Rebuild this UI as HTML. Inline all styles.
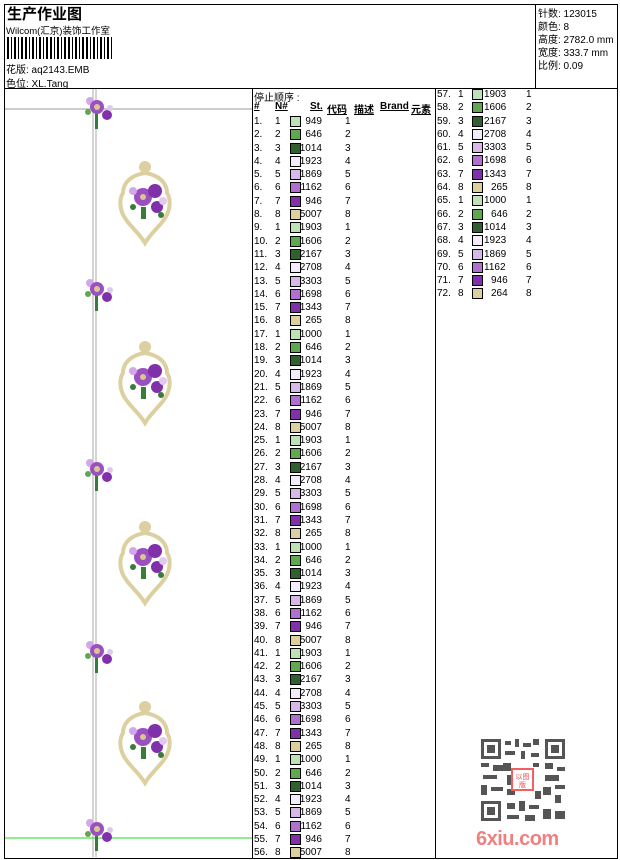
<!DOCTYPE html>
<html><head><meta charset="utf-8"><style>
body{margin:0;width:620px;height:860px;background:#fff;position:relative;overflow:hidden;font-family:"Liberation Sans","Noto Sans CJK SC",sans-serif;color:#000}
.abs{position:absolute}
.t{position:absolute;font-size:10px;white-space:nowrap}
.col{position:absolute;font-size:10px}
.col div{height:13.3px;line-height:13.3px;position:relative;white-space:nowrap}
.col span{position:absolute}
.col i{position:absolute;width:9px;height:9px;border:1px solid #000;top:1px}
.a{left:0}.b{left:21px}.s{width:32px;text-align:right}
</style></head><body>
<div class="abs" style="left:4px;top:4px;width:612px;height:853px;border:1px solid #000"></div>
<div class="abs" style="left:4px;top:88px;width:613px;border-top:1px solid #000"></div>
<div class="abs" style="left:535px;top:4px;height:84px;border-left:1px solid #000"></div>
<div class="abs" style="left:252px;top:88px;height:770px;border-left:1px solid #000"></div>
<div class="abs" style="left:435px;top:88px;height:770px;border-left:1px solid #000"></div>

<div class="t" style="left:7px;top:3px;font-size:15px;font-weight:bold">生产作业图</div>
<div class="t" style="left:6px;top:23px;font-size:9.5px">Wilcom(汇京)装饰工作室</div>
<svg class="abs" style="left:7px;top:37px" width="105" height="22">
<g fill="#000">
<rect x="0" y="0" width="2" height="22"/><rect x="4" y="0" width="1" height="22"/><rect x="7" y="0" width="2" height="22"/><rect x="11" y="0" width="1" height="22"/><rect x="14" y="0" width="2" height="22"/><rect x="18" y="0" width="2" height="22"/><rect x="22" y="0" width="1" height="22"/><rect x="25" y="0" width="2" height="22"/><rect x="29" y="0" width="1" height="22"/><rect x="32" y="0" width="2" height="22"/><rect x="36" y="0" width="1" height="22"/><rect x="39" y="0" width="2" height="22"/><rect x="43" y="0" width="2" height="22"/><rect x="47" y="0" width="1" height="22"/><rect x="50" y="0" width="2" height="22"/><rect x="54" y="0" width="1" height="22"/><rect x="57" y="0" width="2" height="22"/><rect x="61" y="0" width="2" height="22"/><rect x="65" y="0" width="1" height="22"/><rect x="68" y="0" width="2" height="22"/><rect x="72" y="0" width="1" height="22"/><rect x="75" y="0" width="2" height="22"/><rect x="79" y="0" width="2" height="22"/><rect x="83" y="0" width="1" height="22"/><rect x="86" y="0" width="2" height="22"/><rect x="90" y="0" width="1" height="22"/><rect x="93" y="0" width="2" height="22"/><rect x="97" y="0" width="1" height="22"/><rect x="100" y="0" width="2" height="22"/><rect x="104" y="0" width="1" height="22"/>
</g></svg>
<div class="t" style="left:6px;top:61px">花版: aq2143.EMB</div>
<div class="t" style="left:6px;top:75px">色位: XL.Tang</div>

<div class="t" style="left:538px;top:5px">针数: 123015</div>
<div class="t" style="left:538px;top:18px">颜色: 8</div>
<div class="t" style="left:538px;top:31px">高度: 2782.0 mm</div>
<div class="t" style="left:538px;top:44px">宽度: 333.7 mm</div>
<div class="t" style="left:538px;top:57px">比例: 0.09</div>

<svg class="abs" style="left:5px;top:89px" width="247" height="768">
<defs>
<g id="sf"><rect x="-3" y="6" width="3" height="16" fill="#3a7a3a"/><circle cx="-8" cy="-6" r="4" fill="#d4a8e8"/><circle cx="-1" cy="0" r="7" fill="#9a50c0"/><circle cx="-1" cy="0" r="3" fill="#d8c890"/><circle cx="9" cy="8" r="5" fill="#8030a8"/><circle cx="-10" cy="5" r="3" fill="#60a850"/><circle cx="12" cy="1" r="3" fill="#e0c8f0"/></g>
<g id="bf"><path d="M0,-28 C-14,-26 -22,-18 -22,-8 C-26,-2 -26,10 -18,20 C-12,28 -6,32 0,42 C6,32 12,28 18,20 C26,10 26,-2 22,-8 C22,-18 14,-26 0,-28Z" fill="none" stroke="#ddd0a0" stroke-width="4"/><circle cx="0" cy="-34" r="6" fill="#ddd0a0"/><circle cx="-2" cy="-4" r="9" fill="#9a50c0"/><circle cx="-2" cy="-4" r="3" fill="#d8c890"/><circle cx="10" cy="-10" r="7" fill="#8030a8"/><circle cx="12" cy="6" r="6" fill="#8030a8"/><circle cx="-12" cy="-10" r="4" fill="#d4a8e8"/><circle cx="18" cy="0" r="4" fill="#e0c8f0"/><rect x="-4" y="6" width="5" height="12" fill="#3a7a3a"/><circle cx="-12" cy="6" r="3" fill="#3a7a3a"/><circle cx="16" cy="14" r="3" fill="#3a7a3a"/></g>
</defs>
<line x1="88" y1="0" x2="88" y2="768" stroke="#aaa" stroke-width="1"/>
<line x1="91" y1="0" x2="91" y2="768" stroke="#aaa" stroke-width="1"/>
<line x1="0" y1="20" x2="247" y2="20" stroke="#999"/>
<line x1="0" y1="749" x2="247" y2="749" stroke="#22dd22"/>
<use href="#sf" x="93" y="18"/>
<use href="#sf" x="93" y="200"/>
<use href="#sf" x="93" y="380"/>
<use href="#sf" x="93" y="562"/>
<use href="#sf" x="93" y="740"/>
<use href="#bf" x="140" y="112"/>
<use href="#bf" x="140" y="292"/>
<use href="#bf" x="140" y="472"/>
<use href="#bf" x="140" y="652"/>
</svg>

<div class="t" style="left:254px;top:89px">停止顺序 :</div>
<div class="t" style="left:254px;top:101px;font-weight:bold;text-decoration:underline">#</div>
<div class="t" style="left:275px;top:101px;font-weight:bold;text-decoration:underline">N#</div>
<div class="t" style="left:310px;top:101px;font-weight:bold;text-decoration:underline">St.</div>
<div class="t" style="left:327px;top:101px;font-weight:bold;text-decoration:underline">代码</div>
<div class="t" style="left:354px;top:101px;font-weight:bold;text-decoration:underline">描述</div>
<div class="t" style="left:380px;top:101px;font-weight:bold;text-decoration:underline">Brand</div>
<div class="t" style="left:411px;top:101px;font-weight:bold;text-decoration:underline">元素</div>

<div class="col" style="left:254px;top:115px;width:180px">
<div><span class="a">1.</span><span class="b">1</span><i style="left:36px;background:#c0e0b8"></i><span class="s" style="left:36px">949</span><span style="left:91px">1</span></div>
<div><span class="a">2.</span><span class="b">2</span><i style="left:36px;background:#60a850"></i><span class="s" style="left:36px">646</span><span style="left:91px">2</span></div>
<div><span class="a">3.</span><span class="b">3</span><i style="left:36px;background:#306030"></i><span class="s" style="left:36px">1014</span><span style="left:91px">3</span></div>
<div><span class="a">4.</span><span class="b">4</span><i style="left:36px;background:#f4ecfa"></i><span class="s" style="left:36px">1923</span><span style="left:91px">4</span></div>
<div><span class="a">5.</span><span class="b">5</span><i style="left:36px;background:#d8b8e8"></i><span class="s" style="left:36px">1869</span><span style="left:91px">5</span></div>
<div><span class="a">6.</span><span class="b">6</span><i style="left:36px;background:#b070d0"></i><span class="s" style="left:36px">1162</span><span style="left:91px">6</span></div>
<div><span class="a">7.</span><span class="b">7</span><i style="left:36px;background:#8030a8"></i><span class="s" style="left:36px">946</span><span style="left:91px">7</span></div>
<div><span class="a">8.</span><span class="b">8</span><i style="left:36px;background:#ddd0a0"></i><span class="s" style="left:36px">5007</span><span style="left:91px">8</span></div>
<div><span class="a">9.</span><span class="b">1</span><i style="left:36px;background:#c0e0b8"></i><span class="s" style="left:36px">1903</span><span style="left:91px">1</span></div>
<div><span class="a">10.</span><span class="b">2</span><i style="left:36px;background:#60a850"></i><span class="s" style="left:36px">1606</span><span style="left:91px">2</span></div>
<div><span class="a">11.</span><span class="b">3</span><i style="left:36px;background:#306030"></i><span class="s" style="left:36px">2167</span><span style="left:91px">3</span></div>
<div><span class="a">12.</span><span class="b">4</span><i style="left:36px;background:#f4ecfa"></i><span class="s" style="left:36px">2708</span><span style="left:91px">4</span></div>
<div><span class="a">13.</span><span class="b">5</span><i style="left:36px;background:#d8b8e8"></i><span class="s" style="left:36px">3303</span><span style="left:91px">5</span></div>
<div><span class="a">14.</span><span class="b">6</span><i style="left:36px;background:#b070d0"></i><span class="s" style="left:36px">1698</span><span style="left:91px">6</span></div>
<div><span class="a">15.</span><span class="b">7</span><i style="left:36px;background:#8030a8"></i><span class="s" style="left:36px">1343</span><span style="left:91px">7</span></div>
<div><span class="a">16.</span><span class="b">8</span><i style="left:36px;background:#ddd0a0"></i><span class="s" style="left:36px">265</span><span style="left:91px">8</span></div>
<div><span class="a">17.</span><span class="b">1</span><i style="left:36px;background:#c0e0b8"></i><span class="s" style="left:36px">1000</span><span style="left:91px">1</span></div>
<div><span class="a">18.</span><span class="b">2</span><i style="left:36px;background:#60a850"></i><span class="s" style="left:36px">646</span><span style="left:91px">2</span></div>
<div><span class="a">19.</span><span class="b">3</span><i style="left:36px;background:#306030"></i><span class="s" style="left:36px">1014</span><span style="left:91px">3</span></div>
<div><span class="a">20.</span><span class="b">4</span><i style="left:36px;background:#f4ecfa"></i><span class="s" style="left:36px">1923</span><span style="left:91px">4</span></div>
<div><span class="a">21.</span><span class="b">5</span><i style="left:36px;background:#d8b8e8"></i><span class="s" style="left:36px">1869</span><span style="left:91px">5</span></div>
<div><span class="a">22.</span><span class="b">6</span><i style="left:36px;background:#b070d0"></i><span class="s" style="left:36px">1162</span><span style="left:91px">6</span></div>
<div><span class="a">23.</span><span class="b">7</span><i style="left:36px;background:#8030a8"></i><span class="s" style="left:36px">946</span><span style="left:91px">7</span></div>
<div><span class="a">24.</span><span class="b">8</span><i style="left:36px;background:#ddd0a0"></i><span class="s" style="left:36px">5007</span><span style="left:91px">8</span></div>
<div><span class="a">25.</span><span class="b">1</span><i style="left:36px;background:#c0e0b8"></i><span class="s" style="left:36px">1903</span><span style="left:91px">1</span></div>
<div><span class="a">26.</span><span class="b">2</span><i style="left:36px;background:#60a850"></i><span class="s" style="left:36px">1606</span><span style="left:91px">2</span></div>
<div><span class="a">27.</span><span class="b">3</span><i style="left:36px;background:#306030"></i><span class="s" style="left:36px">2167</span><span style="left:91px">3</span></div>
<div><span class="a">28.</span><span class="b">4</span><i style="left:36px;background:#f4ecfa"></i><span class="s" style="left:36px">2708</span><span style="left:91px">4</span></div>
<div><span class="a">29.</span><span class="b">5</span><i style="left:36px;background:#d8b8e8"></i><span class="s" style="left:36px">3303</span><span style="left:91px">5</span></div>
<div><span class="a">30.</span><span class="b">6</span><i style="left:36px;background:#b070d0"></i><span class="s" style="left:36px">1698</span><span style="left:91px">6</span></div>
<div><span class="a">31.</span><span class="b">7</span><i style="left:36px;background:#8030a8"></i><span class="s" style="left:36px">1343</span><span style="left:91px">7</span></div>
<div><span class="a">32.</span><span class="b">8</span><i style="left:36px;background:#ddd0a0"></i><span class="s" style="left:36px">265</span><span style="left:91px">8</span></div>
<div><span class="a">33.</span><span class="b">1</span><i style="left:36px;background:#c0e0b8"></i><span class="s" style="left:36px">1000</span><span style="left:91px">1</span></div>
<div><span class="a">34.</span><span class="b">2</span><i style="left:36px;background:#60a850"></i><span class="s" style="left:36px">646</span><span style="left:91px">2</span></div>
<div><span class="a">35.</span><span class="b">3</span><i style="left:36px;background:#306030"></i><span class="s" style="left:36px">1014</span><span style="left:91px">3</span></div>
<div><span class="a">36.</span><span class="b">4</span><i style="left:36px;background:#f4ecfa"></i><span class="s" style="left:36px">1923</span><span style="left:91px">4</span></div>
<div><span class="a">37.</span><span class="b">5</span><i style="left:36px;background:#d8b8e8"></i><span class="s" style="left:36px">1869</span><span style="left:91px">5</span></div>
<div><span class="a">38.</span><span class="b">6</span><i style="left:36px;background:#b070d0"></i><span class="s" style="left:36px">1162</span><span style="left:91px">6</span></div>
<div><span class="a">39.</span><span class="b">7</span><i style="left:36px;background:#8030a8"></i><span class="s" style="left:36px">946</span><span style="left:91px">7</span></div>
<div><span class="a">40.</span><span class="b">8</span><i style="left:36px;background:#ddd0a0"></i><span class="s" style="left:36px">5007</span><span style="left:91px">8</span></div>
<div><span class="a">41.</span><span class="b">1</span><i style="left:36px;background:#c0e0b8"></i><span class="s" style="left:36px">1903</span><span style="left:91px">1</span></div>
<div><span class="a">42.</span><span class="b">2</span><i style="left:36px;background:#60a850"></i><span class="s" style="left:36px">1606</span><span style="left:91px">2</span></div>
<div><span class="a">43.</span><span class="b">3</span><i style="left:36px;background:#306030"></i><span class="s" style="left:36px">2167</span><span style="left:91px">3</span></div>
<div><span class="a">44.</span><span class="b">4</span><i style="left:36px;background:#f4ecfa"></i><span class="s" style="left:36px">2708</span><span style="left:91px">4</span></div>
<div><span class="a">45.</span><span class="b">5</span><i style="left:36px;background:#d8b8e8"></i><span class="s" style="left:36px">3303</span><span style="left:91px">5</span></div>
<div><span class="a">46.</span><span class="b">6</span><i style="left:36px;background:#b070d0"></i><span class="s" style="left:36px">1698</span><span style="left:91px">6</span></div>
<div><span class="a">47.</span><span class="b">7</span><i style="left:36px;background:#8030a8"></i><span class="s" style="left:36px">1343</span><span style="left:91px">7</span></div>
<div><span class="a">48.</span><span class="b">8</span><i style="left:36px;background:#ddd0a0"></i><span class="s" style="left:36px">265</span><span style="left:91px">8</span></div>
<div><span class="a">49.</span><span class="b">1</span><i style="left:36px;background:#c0e0b8"></i><span class="s" style="left:36px">1000</span><span style="left:91px">1</span></div>
<div><span class="a">50.</span><span class="b">2</span><i style="left:36px;background:#60a850"></i><span class="s" style="left:36px">646</span><span style="left:91px">2</span></div>
<div><span class="a">51.</span><span class="b">3</span><i style="left:36px;background:#306030"></i><span class="s" style="left:36px">1014</span><span style="left:91px">3</span></div>
<div><span class="a">52.</span><span class="b">4</span><i style="left:36px;background:#f4ecfa"></i><span class="s" style="left:36px">1923</span><span style="left:91px">4</span></div>
<div><span class="a">53.</span><span class="b">5</span><i style="left:36px;background:#d8b8e8"></i><span class="s" style="left:36px">1869</span><span style="left:91px">5</span></div>
<div><span class="a">54.</span><span class="b">6</span><i style="left:36px;background:#b070d0"></i><span class="s" style="left:36px">1162</span><span style="left:91px">6</span></div>
<div><span class="a">55.</span><span class="b">7</span><i style="left:36px;background:#8030a8"></i><span class="s" style="left:36px">946</span><span style="left:91px">7</span></div>
<div><span class="a">56.</span><span class="b">8</span><i style="left:36px;background:#ddd0a0"></i><span class="s" style="left:36px">5007</span><span style="left:91px">8</span></div>
</div>

<div class="col" style="left:437px;top:88px;width:170px">
<div><span class="a">57.</span><span class="b">1</span><i style="left:35px;background:#c0e0b8"></i><span style="left:47px">1903</span><span style="left:89px">1</span></div>
<div><span class="a">58.</span><span class="b">2</span><i style="left:35px;background:#60a850"></i><span style="left:47px">1606</span><span style="left:89px">2</span></div>
<div><span class="a">59.</span><span class="b">3</span><i style="left:35px;background:#306030"></i><span style="left:47px">2167</span><span style="left:89px">3</span></div>
<div><span class="a">60.</span><span class="b">4</span><i style="left:35px;background:#f4ecfa"></i><span style="left:47px">2708</span><span style="left:89px">4</span></div>
<div><span class="a">61.</span><span class="b">5</span><i style="left:35px;background:#d8b8e8"></i><span style="left:47px">3303</span><span style="left:89px">5</span></div>
<div><span class="a">62.</span><span class="b">6</span><i style="left:35px;background:#b070d0"></i><span style="left:47px">1698</span><span style="left:89px">6</span></div>
<div><span class="a">63.</span><span class="b">7</span><i style="left:35px;background:#8030a8"></i><span style="left:47px">1343</span><span style="left:89px">7</span></div>
<div><span class="a">64.</span><span class="b">8</span><i style="left:35px;background:#ddd0a0"></i><span style="left:54px">265</span><span style="left:89px">8</span></div>
<div><span class="a">65.</span><span class="b">1</span><i style="left:35px;background:#c0e0b8"></i><span style="left:47px">1000</span><span style="left:89px">1</span></div>
<div><span class="a">66.</span><span class="b">2</span><i style="left:35px;background:#60a850"></i><span style="left:54px">646</span><span style="left:89px">2</span></div>
<div><span class="a">67.</span><span class="b">3</span><i style="left:35px;background:#306030"></i><span style="left:47px">1014</span><span style="left:89px">3</span></div>
<div><span class="a">68.</span><span class="b">4</span><i style="left:35px;background:#f4ecfa"></i><span style="left:47px">1923</span><span style="left:89px">4</span></div>
<div><span class="a">69.</span><span class="b">5</span><i style="left:35px;background:#d8b8e8"></i><span style="left:47px">1869</span><span style="left:89px">5</span></div>
<div><span class="a">70.</span><span class="b">6</span><i style="left:35px;background:#b070d0"></i><span style="left:47px">1162</span><span style="left:89px">6</span></div>
<div><span class="a">71.</span><span class="b">7</span><i style="left:35px;background:#8030a8"></i><span style="left:54px">946</span><span style="left:89px">7</span></div>
<div><span class="a">72.</span><span class="b">8</span><i style="left:35px;background:#ddd0a0"></i><span style="left:54px">264</span><span style="left:89px">8</span></div>
</div>

<svg class="abs" style="left:481px;top:739px" width="84" height="82">
<g fill="#555">
<rect x="0" y="0" width="20" height="20"/><rect x="64" y="0" width="20" height="20"/><rect x="0" y="62" width="20" height="20"/>
<rect x="24" y="2" width="6" height="4"/><rect x="34" y="0" width="4" height="8"/><rect x="42" y="4" width="8" height="4"/><rect x="52" y="0" width="6" height="6"/>
<rect x="24" y="12" width="10" height="4"/><rect x="40" y="12" width="4" height="8"/><rect x="50" y="14" width="8" height="4"/>
<rect x="0" y="24" width="8" height="4"/><rect x="12" y="26" width="10" height="6"/><rect x="64" y="24" width="8" height="6"/><rect x="76" y="28" width="8" height="4"/>
<rect x="2" y="36" width="14" height="4"/><rect x="64" y="36" width="14" height="6"/><rect x="0" y="46" width="6" height="10"/><rect x="10" y="48" width="12" height="4"/>
<rect x="62" y="48" width="8" height="8"/><rect x="74" y="46" width="10" height="4"/><rect x="74" y="56" width="6" height="8"/>
<rect x="26" y="64" width="8" height="6"/><rect x="38" y="62" width="6" height="10"/><rect x="48" y="66" width="10" height="4"/><rect x="26" y="76" width="12" height="4"/><rect x="44" y="76" width="10" height="6"/><rect x="62" y="70" width="8" height="10"/><rect x="74" y="72" width="10" height="8"/>
<rect x="22" y="24" width="8" height="8"/><rect x="26" y="36" width="4" height="10"/><rect x="26" y="50" width="8" height="6"/><rect x="52" y="24" width="6" height="4"/><rect x="54" y="52" width="6" height="8"/>
</g>
<g fill="#fff"><rect x="3" y="3" width="14" height="14"/><rect x="67" y="3" width="14" height="14"/><rect x="3" y="65" width="14" height="14"/></g>
<g fill="#555"><rect x="6" y="6" width="8" height="8"/><rect x="70" y="6" width="8" height="8"/><rect x="6" y="68" width="8" height="8"/></g>
<rect x="31" y="30" width="21" height="21" fill="#fff" stroke="#f06060" stroke-width="2"/>
<text x="41.5" y="40" font-size="7" fill="#f05050" text-anchor="middle" font-family="Noto Sans CJK SC,sans-serif">以图</text>
<text x="41.5" y="48" font-size="7" fill="#f05050" text-anchor="middle" font-family="Noto Sans CJK SC,sans-serif">版</text>
</svg>
<div class="t" style="left:476px;top:828px;font-size:20px;font-weight:bold;color:#f08080;letter-spacing:-0.5px">6xiu.com</div>
</body></html>
